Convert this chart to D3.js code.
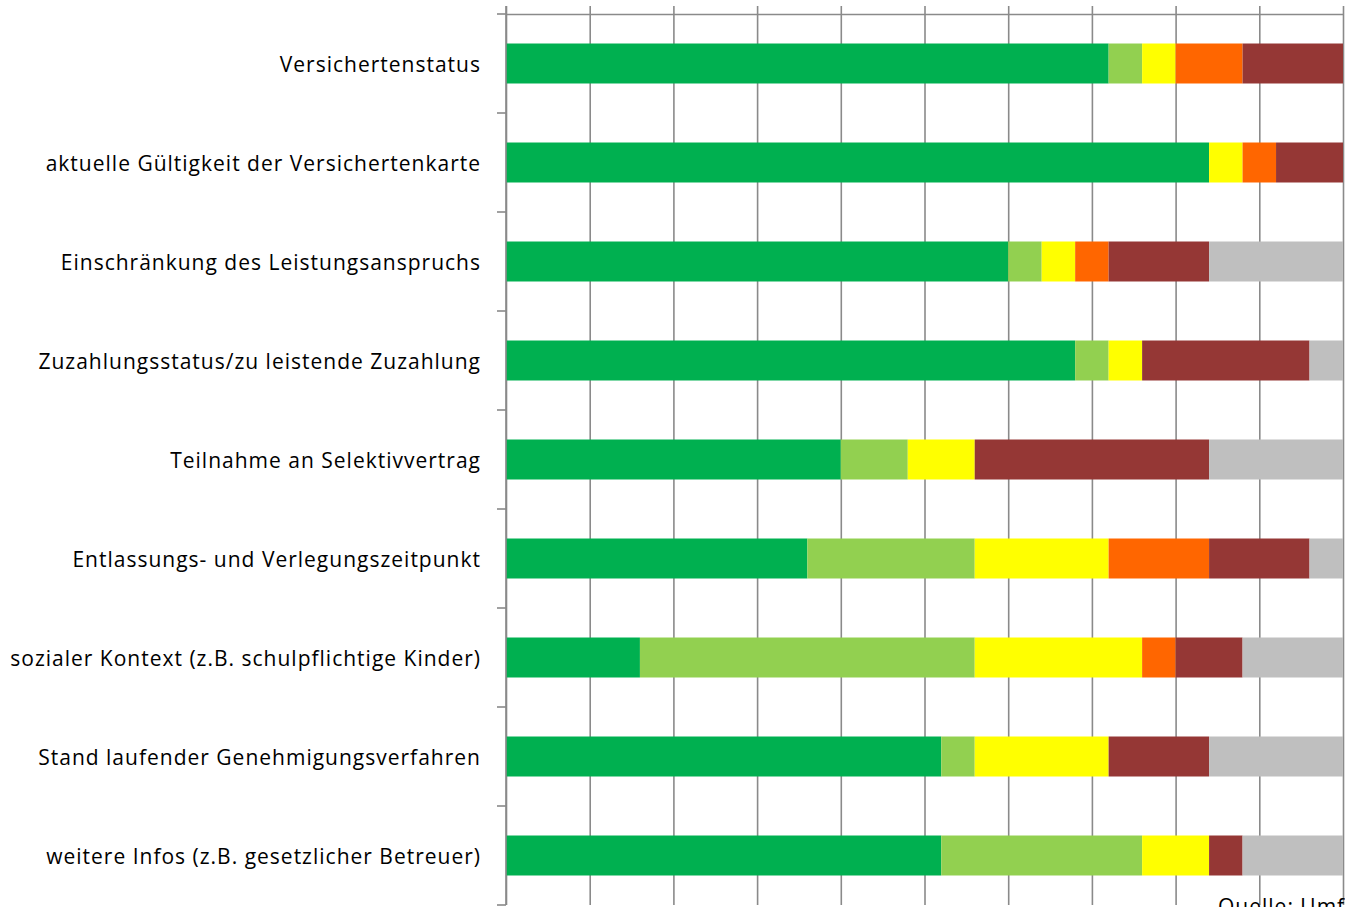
<!DOCTYPE html>
<html>
<head>
<meta charset="utf-8">
<script src="https://cdn.jsdelivr.net/npm/d3@7"></script>
<style>
  html, body { margin: 0; padding: 0; background: #fff; overflow: hidden; }
  svg { display: block; }
</style>
</head>
<body>
<svg></svg>
<script>
const width = 1345
const height = 907

// Categories (top to bottom)
const categories = [
    "Versichertenstatus",
    "aktuelle Gültigkeit der Versichertenkarte",
    "Einschränkung des Leistungsanspruchs",
    "Zuzahlungsstatus/zu leistende Zuzahlung",
    "Teilnahme an Selektivvertrag",
    "Entlassungs- und Verlegungszeitpunkt",
    "sozialer Kontext (z.B. schulpflichtige Kinder)",
    "Stand laufender Genehmigungsverfahren",
    "weitere Infos (z.B. gesetzlicher Betreuer)"
]

// Series (percent of answers, left to right)
const seriesNames = ["immer", "häufig", "manchmal", "selten", "nie", "keine Angabe"]
const seriesColors = ["#00B050", "#92D050", "#FFFF00", "#FF6600", "#953735", "#BFBFBF"]

const immer       = [72, 84, 60, 68, 40, 36, 16, 52, 52]
const haeufig     = [ 4,  0,  4,  4,  8, 20, 40,  4, 24]
const manchmal    = [ 4,  4,  4,  4,  8, 16, 20, 16,  8]
const selten      = [ 8,  4,  4,  0,  0, 12,  4,  0,  0]
const nie         = [12,  8, 12, 20, 28, 12,  8, 12,  4]
const keineAngabe = [ 0,  0, 16,  4, 16,  4, 12, 16, 12]

const xTicks = [0, 10, 20, 30, 40, 50, 60, 70, 80, 90, 100]

// Build table for d3.stack
const seriesValues = [immer, haeufig, manchmal, selten, nie, keineAngabe]
const data = categories.map((c, i) => {
    const row = { name: c }
    seriesNames.forEach((s, j) => row[s] = seriesValues[j][i])
    return row
})

const margin = { top: 14, right: 2, bottom: 2, left: 506 }
const innerWidth = width - margin.left - margin.right
const innerHeight = 891

const svg = d3.select("svg")
    .attr("width", width)
    .attr("height", height)

const g = svg.append("g")
    .attr("transform", `translate(${margin.left}, ${margin.top})`)

// Scales
const xScale = d3.scaleLinear()
    .domain([0, 100])
    .range([0, innerWidth])

const yScale = d3.scaleBand()
    .domain(categories)
    .range([0, innerHeight])
    .paddingInner(0.596)
    .paddingOuter(0.298)

const colorScale = d3.scaleOrdinal()
    .domain(seriesNames)
    .range(seriesColors)

const gridColor = "#8a8a8a"

// Vertical gridlines
const grid = g.append("g")
    .call(d3.axisTop(xScale).tickValues(xTicks).tickSize(-innerHeight).tickFormat(""))
grid.select(".domain").remove()
grid.selectAll(".tick line")
    .attr("stroke", gridColor)
    .attr("stroke-width", 1.6)

// Top value axis with outside tick marks
const xAxisG = g.append("g")
    .call(d3.axisTop(xScale).tickValues(xTicks).tickSize(8).tickSizeOuter(0).tickFormat(""))
xAxisG.selectAll(".tick line, .domain")
    .attr("stroke", gridColor)
    .attr("stroke-width", 1.6)

// Category boundaries tick marks
const step = yScale.step()
const gap = step - yScale.bandwidth()
const boundaries = categories.map(c => yScale(c) - gap / 2).concat([yScale(categories[categories.length - 1]) + yScale.bandwidth() + gap / 2])

g.selectAll(".cat-tick").data(boundaries)
    .enter()
    .append("line")
    .attr("class", "cat-tick")
    .attr("x1", -9)
    .attr("x2", 0)
    .attr("y1", d => d)
    .attr("y2", d => d)
    .attr("stroke", gridColor)
    .attr("stroke-width", 1.6)

// Stacked bars
const stack = d3.stack().keys(seriesNames)
const stacked = stack(data)

g.selectAll(".series").data(stacked)
    .enter()
    .append("g")
    .attr("class", "series")
    .attr("fill", d => colorScale(d.key))
    .selectAll("rect").data(d => d)
    .enter()
    .append("rect")
    .attr("x", d => xScale(d[0]))
    .attr("y", d => yScale(d.data.name))
    .attr("width", d => xScale(d[1]) - xScale(d[0]))
    .attr("height", yScale.bandwidth())

// Category axis line
g.append("line")
    .attr("x1", 0).attr("x2", 0)
    .attr("y1", -8).attr("y2", innerHeight)
    .attr("stroke", gridColor)
    .attr("stroke-width", 1.6)

// Category labels
const yAxisG = g.append("g")
    .call(d3.axisLeft(yScale).tickSize(0).tickPadding(25))
yAxisG.select(".domain").remove()
yAxisG.selectAll("text")
    .attr("font-family", "'Open Sans', sans-serif")
    .attr("font-size", "21px")
    .attr("letter-spacing", "1px")
    .attr("dy", "0.42em")
    .attr("fill", "#000")

// Source note (cut at bottom edge, as in the original)
svg.append("text")
    .attr("x", 1218)
    .attr("y", 914)
    .attr("font-family", "'Open Sans', sans-serif")
    .attr("font-size", "21px")
    .attr("letter-spacing", "1px")
    .attr("fill", "#000")
    .text("Quelle: Umfrage")
</script>
</body>
</html>
